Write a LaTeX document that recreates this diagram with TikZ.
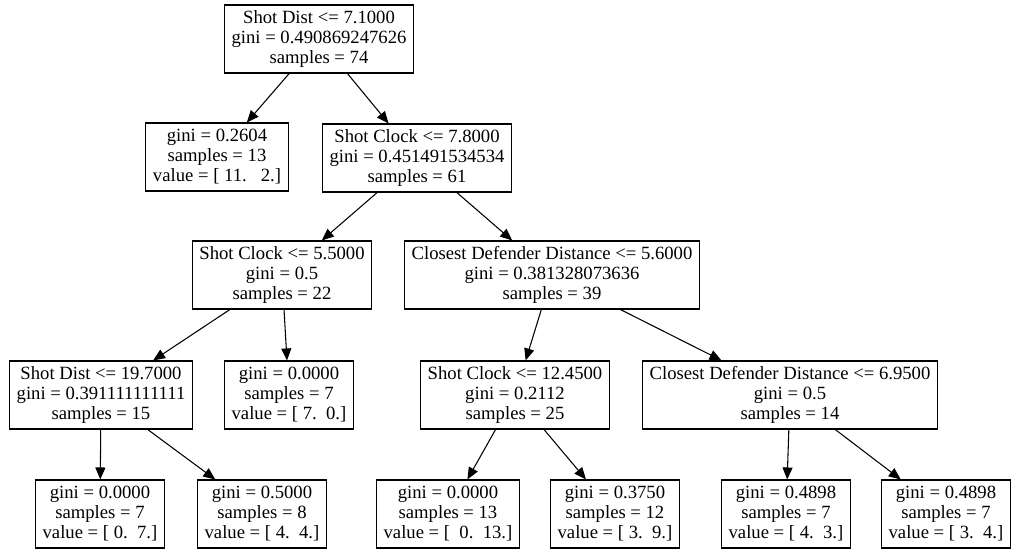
\documentclass[tikz,border=0pt]{standalone}
\usepackage{fontspec}
\setmainfont{Liberation Serif}
\usetikzlibrary{arrows.meta}
\tikzset{
	>={Triangle[length=9pt,width=7.5pt]},
	every edge/.style={draw=black, line width=0.8pt},
	treebox/.style = {
			draw,
			rectangle,
			line width = 0.8pt,
			align = center,
			inner xsep = 5.5pt,
			inner ysep = 3pt,
			minimum height = 51pt,
			font = \fontsize{14}{15}\selectfont
		}
}

\begin{document}
\begin{tikzpicture}[x=0.75pt, y=-0.75pt]
    \fill[white] (0,0) rectangle (1018,556);
    \useasboundingbox (0,0) rectangle (1018,556);

    \node[treebox] at (319,39) (root) {Shot Dist <= 7.1000\\gini = 0.490869247626\\samples = 74};

    \node[treebox] at (217,157) (n1) {gini = 0.2604\\samples = 13\\value = [ 11.\ \ \ 2.]};
    \node[treebox] at (417,158) (n2) {Shot Clock <= 7.8000\\gini = 0.451491534534\\samples = 61};

    \node[treebox] at (282,275) (n3) {Shot Clock <= 5.5000\\gini = 0.5\\samples = 22};
    \node[treebox] at (552,275) (n4) {Closest Defender Distance <= 5.6000\\gini = 0.381328073636\\samples = 39};

    \node[treebox] at (101,395) (n5) {Shot Dist <= 19.7000\\gini = 0.391111111111\\samples = 15};
    \node[treebox] at (289,395) (n6) {gini = 0.0000\\samples = 7\\value = [ 7.\ \ 0.]};
    \node[treebox] at (515,395) (n7) {Shot Clock <= 12.4500\\gini = 0.2112\\samples = 25};
    \node[treebox] at (790,395) (n8) {Closest Defender Distance <= 6.9500\\gini = 0.5\\samples = 14};

    \node[treebox] at (100,514) (n9) {gini = 0.0000\\samples = 7\\value = [ 0.\ \ 7.]};
    \node[treebox] at (262,514) (n10) {gini = 0.5000\\samples = 8\\value = [ 4.\ \ 4.]};
    \node[treebox] at (448,514) (n11) {gini = 0.0000\\samples = 13\\value = [\ \ 0.\ \ 13.]};
    \node[treebox] at (615,514) (n12) {gini = 0.3750\\samples = 12\\value = [ 3.\ \ 9.]};
    \node[treebox] at (786,514) (n13) {gini = 0.4898\\samples = 7\\value = [ 4.\ \ 3.]};
    \node[treebox] at (946,514) (n14) {gini = 0.4898\\samples = 7\\value = [ 3.\ \ 4.]};

    \draw[->] (root) edge (n1) (root) edge (n2);
    \draw[->] (n2) edge (n3) (n2) edge (n4);
    \draw[->] (n3) edge (n5) (n3) edge (n6);
    \draw[->] (n4) edge (n7) (n4) edge (n8);
    \draw[->] (n5) edge (n9) (n5) edge (n10);
    \draw[->] (n7) edge (n11) (n7) edge (n12);
    \draw[->] (n8) edge (n13) (n8) edge (n14);
  \end{tikzpicture}
\end{document}
